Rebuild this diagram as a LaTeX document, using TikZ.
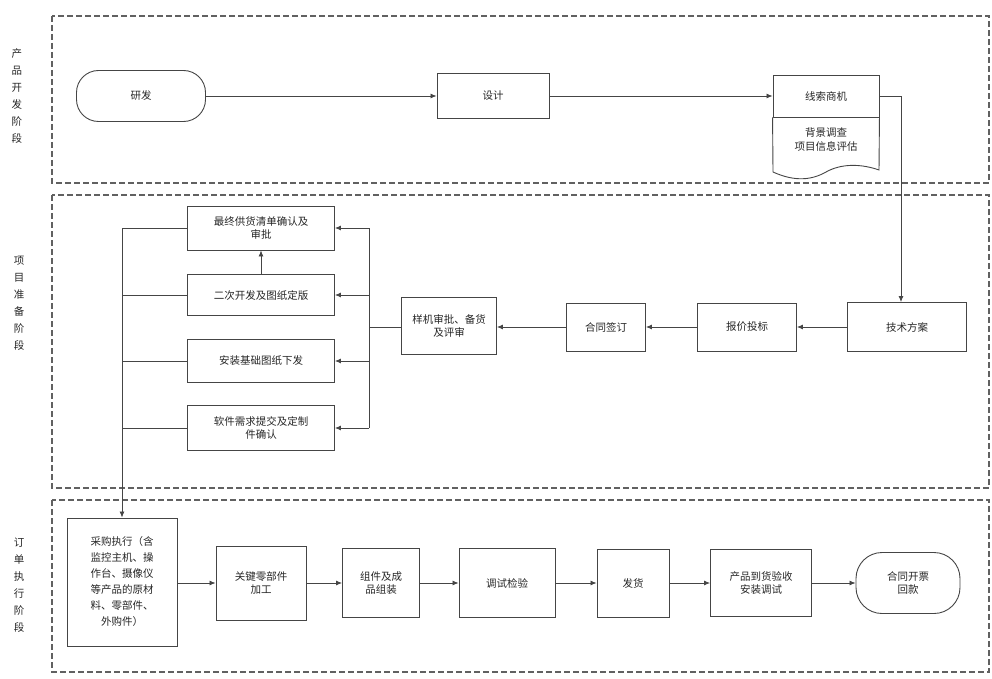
\documentclass[tikz,border=0pt]{standalone}
\usepackage{fontspec}
\setmainfont{Noto Sans CJK SC}
\usetikzlibrary{arrows.meta,calc}
\definecolor{ln}{HTML}{454545}
\definecolor{tx}{HTML}{262626}
\tikzset{
  box/.style={draw=ln,line width=0.9pt,text=tx,font=\fontsize{10.5}{13.5}\selectfont,align=center,inner sep=2pt},
  term/.style={box,rounded corners=22pt},
  lane/.style={draw=ln!85,line width=1.1pt,dash pattern=on 6pt off 3pt},
  lanelabel/.style={text=tx,font=\fontsize{10.5}{17}\selectfont,align=center},
  conn/.style={draw=ln,line width=0.8pt},
  arr/.style={conn,-{Latex[length=6pt,width=5pt]}}
}
\begin{document}
\begin{tikzpicture}[x=1pt,y=-1pt]
\useasboundingbox (0,0) rectangle (992,679);
% lanes
\draw[lane] (52,16) rectangle (989,183);
\draw[lane] (52,195) rectangle (989,488);
\draw[lane] (52,500) rectangle (989,672);
\node[lanelabel] (l1) at (17,96) {产\\品\\开\\发\\阶\\段};
\node[lanelabel] (l2) at (19,303) {项\\目\\准\\备\\阶\\段};
\node[lanelabel] (l3) at (19,585) {订\\单\\执\\行\\阶\\段};
% lane 1
\node[term,minimum width=129pt,minimum height=51pt] (yf) at (141,96) {研发};
\node[box,minimum width=112pt,minimum height=45pt] (sj) at (493,96) {设计};
\node[box,minimum width=106pt,minimum height=42pt] (xs) at (826,96) {线索商机};
\draw[ln,line width=0.9pt] (xs.south west) -- (773,172)
  .. controls (795,182) and (812,180) .. (826,172)
  .. controls (842,163) and (862,164) .. (879,170) -- (xs.south east);
\node[text=tx,font=\fontsize{10.5}{14}\selectfont,align=center] (bj) at (826,140) {背景调查\\项目信息评估};
\draw[arr] (yf) -- (sj);
\draw[arr] (sj) -- (xs);
% lane 2
\node[box,minimum width=119pt,minimum height=49pt] (js) at (907,327) {技术方案};
\node[box,minimum width=99pt,minimum height=48pt] (bz) at (747,327) {报价投标};
\node[box,minimum width=79pt,minimum height=48pt] (ht) at (606,327) {合同签订};
\node[box,minimum width=95pt,minimum height=57pt] (yj) at (449,326) {样机审批、备货\\及评审};
\coordinate (c1) at (901,96);
\draw[arr] (xs.east |- c1) -- (c1) -- (c1 |- js.north);
\draw[arr] (js) -- (bz);
\draw[arr] (bz) -- (ht);
\draw[arr] (ht.west) -- (yj.east |- ht.west);
\node[box,minimum width=147pt,minimum height=44pt] (zz) at (261,228) {最终供货清单确认及\\审批};
\node[box,minimum width=147pt,minimum height=41pt] (ec) at (261,295) {二次开发及图纸定版};
\node[box,minimum width=147pt,minimum height=43pt] (az) at (261,361) {安装基础图纸下发};
\node[box,minimum width=147pt,minimum height=45pt] (rj) at (261,428) {软件需求提交及定制\\件确认};
\coordinate (rb) at (369,327);
\coordinate (rt) at (369,228);
\coordinate (rd) at (369,428);
\draw[conn] (yj.west |- rb) -- (rb);
\draw[conn] (rt) -- (rd);
\draw[arr] (rt) -- (zz.east);
\draw[arr] (rt |- ec.east) -- (ec.east);
\draw[arr] (rt |- az.east) -- (az.east);
\draw[arr] (rd) -- (rj.east);
\draw[arr] (ec.north) -- (zz.south);
% lane 3
\node[box,minimum width=110pt,minimum height=128pt,font=\fontsize{10.5}{16}\selectfont] (cg) at (122,582) {采购执行（含\\监控主机、操\\作台、摄像仪\\等产品的原材\\料、零部件、\\外购件）};
\coordinate (lt) at (122,228);
\draw[conn] (zz.west) -- (lt);
\draw[conn] (ec.west) -- (lt |- ec.west);
\draw[conn] (az.west) -- (lt |- az.west);
\draw[conn] (rj.west) -- (lt |- rj.west);
\draw[arr] (lt) -- (cg.north);
\node[box,minimum width=90pt,minimum height=74pt] (gj) at (261,583) {关键零部件\\加工};
\node[box,minimum width=77pt,minimum height=69pt] (zj) at (381,583) {组件及成\\品组装};
\node[box,minimum width=96pt,minimum height=69pt] (ts) at (507,583) {调试检验};
\node[box,minimum width=72pt,minimum height=68pt] (fh) at (633,583) {发货};
\node[box,minimum width=101pt,minimum height=67pt] (dh) at (761,583) {产品到货验收\\安装调试};
\node[term,rounded corners=26pt,minimum width=104pt,minimum height=61pt] (kp) at (908,583) {合同开票\\回款};
\draw[arr] (cg.east |- gj.west) -- (gj.west);
\draw[arr] (gj) -- (zj);
\draw[arr] (zj) -- (ts);
\draw[arr] (ts) -- (fh);
\draw[arr] (fh) -- (dh);
\draw[arr] (dh) -- (kp);
\end{tikzpicture}
\end{document}
